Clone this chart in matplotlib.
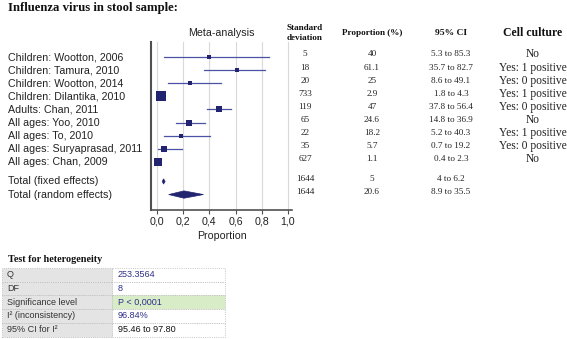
import matplotlib
matplotlib.use("Agg")
import matplotlib.pyplot as plt
from matplotlib.patches import Polygon, Rectangle
from matplotlib.transforms import blended_transform_factory
import numpy as np

# ---------------- data ----------------
studies = ["Children: Wootton, 2006", "Children: Tamura, 2010", "Children: Wootton, 2014",
           "Children: Dilantika, 2010", "Adults: Chan, 2011", "All ages: Yoo, 2010",
           "All ages: To, 2010", "All ages: Suryaprasad, 2011", "All ages: Chan, 2009"]
totals = ["Total (fixed effects)", "Total (random effects)"]
sample_n = [5, 18, 20, 733, 119, 65, 22, 35, 627]
total_n = [1644, 1644]
prop_pct = [40, 61.1, 25, 2.9, 47, 24.6, 18.2, 5.7, 1.1]
ci_low = [5.3, 35.7, 8.6, 1.8, 37.8, 14.8, 5.2, 0.7, 0.4]
ci_high = [85.3, 82.7, 49.1, 4.3, 56.4, 36.9, 40.3, 19.2, 2.3]
total_prop = [5, 20.6]
total_low = [4, 8.9]
total_high = [6.2, 35.5]
cell_culture = ["No", "Yes: 1 positive", "Yes: 0 positive", "Yes: 1 positive",
                "Yes: 0 positive", "No", "Yes: 1 positive", "Yes: 0 positive", "No"]
x_ticks = [0.0, 0.2, 0.4, 0.6, 0.8, 1.0]
x_ticklabels = ["0,0", "0,2", "0,4", "0,6", "0,8", "1,0"]
het_labels = ["Q", "DF", "Significance level", "I\u00b2 (inconsistency)", "95% CI for I\u00b2"]
het_values = ["253.3564", "8", "P < 0,0001", "96.84%", "95.46 to 97.80"]

# ---------------- figure ----------------
W, H = 567, 339
fig = plt.figure(figsize=(W / 100, H / 100), dpi=100)
fig.patch.set_facecolor("white")

def fx(px):
    return px / W

def fy(py):
    return 1 - py / H

SANS = "Liberation Sans"
SERIF = "Liberation Serif"
MARK = "#222470"
LINE = "#4a52a6"

fig.text(fx(8), fy(8), "Influenza virus in stool sample:", fontsize=9.2, fontweight="bold",
         family=SERIF, va="center", ha="left", color="#111111")

# forest axes
ax_l, ax_r, ax_t, ax_b = 151, 292, 42, 210
ax = fig.add_axes([fx(ax_l), fy(ax_b), fx(ax_r - ax_l), (ax_b - ax_t) / H])
row_pos = list(range(len(studies)))
tot_pos = [len(studies) + 0.5, len(studies) + 1.5]
ax.set_xlim(-0.046, 1.031)
ax.set_ylim(11.68, -1.15)

for g in x_ticks:
    ax.axvline(g, color="#d9d9d9", lw=0.8, zorder=0)

for y, p, lo, hi, n in zip(row_pos, prop_pct, ci_low, ci_high, sample_n):
    ax.plot([lo / 100, hi / 100], [y, y], color=LINE, lw=0.9, zorder=2)
    side_px = 1.5 + 1.45 * n ** 0.25
    ax.plot([p / 100], [y], marker="s", ms=side_px * 0.72, color=MARK, mec=MARK,
            mew=0, zorder=3, clip_on=False)

diamond_h = [0.2, 0.28]
for y, p, lo, hi, h in zip(tot_pos, total_prop, total_low, total_high, diamond_h):
    poly = Polygon([[lo / 100, y], [p / 100, y - h], [hi / 100, y], [p / 100, y + h]],
                   closed=True, facecolor=MARK, edgecolor=MARK, lw=0.5, zorder=3)
    ax.add_patch(poly)

for s in ["top", "right"]:
    ax.spines[s].set_visible(False)
ax.spines["left"].set_color("#505050")
ax.spines["left"].set_linewidth(1.5)
ax.spines["bottom"].set_color("#505050")
ax.spines["bottom"].set_linewidth(1.2)
ax.set_yticks([])
ax.set_xticks(x_ticks)
ax.set_xticklabels(x_ticklabels, family=SANS, fontsize=7.7, color="#222222")
ax.tick_params(axis="x", length=3, width=0.8, color="#505050", pad=2)
ax.set_xlabel("Proportion", family=SANS, fontsize=7.7, color="#222222", labelpad=3)
ax.set_title("Meta-analysis", family=SANS, fontsize=7.7, color="#222222", pad=4)

# row labels and table columns aligned with rows
tr = blended_transform_factory(fig.transFigure, ax.transData)
for y, s in zip(row_pos + tot_pos, studies + totals):
    fig.text(fx(8), y, s, transform=tr, family=SANS, fontsize=7.7, va="center",
             ha="left", color="#222222")

col_sd, col_prop, col_ci, col_cc = 305, 372, 451, 533
hdr_y = fy(33)
fig.text(fx(col_sd), hdr_y, "Standard\ndeviation", family=SERIF, fontsize=6.6,
         fontweight="bold", ha="center", va="center", linespacing=1.3, color="#111111")
fig.text(fx(col_prop), hdr_y, "Proportion (%)", family=SERIF, fontsize=6.6,
         fontweight="bold", ha="center", va="center", color="#111111")
fig.text(fx(col_ci), hdr_y, "95% CI", family=SERIF, fontsize=6.8,
         fontweight="bold", ha="center", va="center", color="#111111")
fig.text(fx(col_cc), hdr_y, "Cell culture", family=SERIF, fontsize=8.5,
         fontweight="bold", ha="center", va="center", color="#111111")

def fmt(v):
    return ("%g" % v)

all_y = row_pos + tot_pos
all_n = sample_n + total_n
all_p = prop_pct + total_prop
all_lo = ci_low + total_low
all_hi = ci_high + total_high
for i, y in enumerate(all_y):
    yy = y - 0.2
    fig.text(fx(col_sd), yy, str(all_n[i]), transform=tr, family=SERIF, fontsize=6.6,
             ha="center", va="center", color="#222222")
    fig.text(fx(col_prop), yy, fmt(all_p[i]), transform=tr, family=SERIF, fontsize=6.6,
             ha="center", va="center", color="#222222")
    fig.text(fx(col_ci), yy, "%s to %s" % (fmt(all_lo[i]), fmt(all_hi[i])), transform=tr,
             family=SERIF, fontsize=6.6, ha="center", va="center", color="#222222")
for y, c in zip(row_pos, cell_culture):
    fig.text(fx(col_cc), y - 0.2, c, transform=tr, family=SERIF, fontsize=8.3,
             ha="center", va="center", color="#222222")

# heterogeneity table
fig.text(fx(8), fy(259), "Test for heterogeneity", family=SERIF, fontsize=7.3,
         fontweight="bold", ha="left", va="center", color="#111111")
t_top, row_h = 268, 13.7
c0, c1, c2 = 2, 112, 225
for i, (lab, val) in enumerate(zip(het_labels, het_values)):
    top = t_top + i * row_h
    fig.patches.append(Rectangle((fx(c0), fy(top + row_h)), fx(c1 - c0), row_h / H,
                                 transform=fig.transFigure, facecolor="#e4e4e4",
                                 edgecolor="#b5b5b5", lw=0.6, ls=":"))
    face = "#d8ecc8" if lab == "Significance level" else "white"
    fig.patches.append(Rectangle((fx(c1), fy(top + row_h)), fx(c2 - c1), row_h / H,
                                 transform=fig.transFigure, facecolor=face,
                                 edgecolor="#b5b5b5", lw=0.6, ls=":"))
    fig.text(fx(c0 + 5), fy(top + row_h / 2), lab, family=SANS, fontsize=6.5,
             ha="left", va="center", color="#333333")
    vcol = "#111111" if i == len(het_labels) - 1 else "#2e2e8a"
    fig.text(fx(c1 + 6), fy(top + row_h / 2), val, family=SANS, fontsize=6.5,
             ha="left", va="center", color=vcol)

fig.savefig("out.png", dpi=100)
